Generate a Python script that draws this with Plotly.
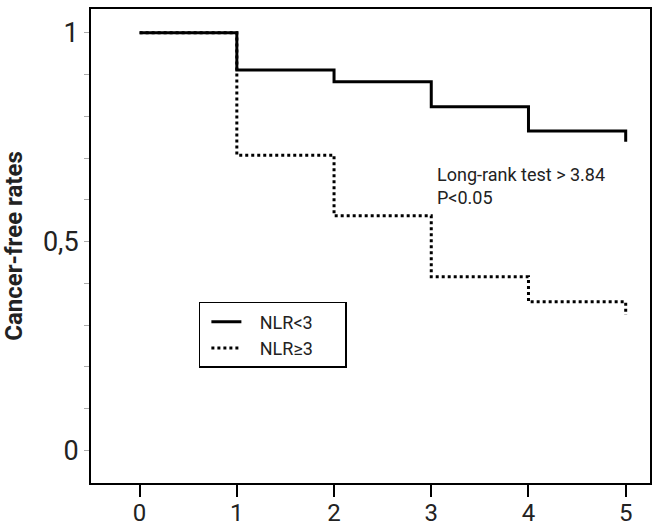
import plotly.graph_objects as go

years = [0, 1, 2, 3, 4, 5]
nlr_low = [1.0, 0.911, 0.883, 0.823, 0.765, 0.739]
nlr_high = [1.0, 0.707, 0.562, 0.416, 0.356, 0.324]
series_names = ["NLR<3", "NLR≥3"]
x_ticks = [0, 1, 2, 3, 4, 5]
y_ticks = [0, 0.1, 0.2, 0.3, 0.4, 0.5, 0.6, 0.7, 0.8, 0.9, 1.0]
y_tick_labels = ["0", "", "", "", "", "0,5", "", "", "", "", "1"]

FONT = "Roboto, sans-serif"
LEAD = "\u00a0" * 3
PAD = "\u00a0" * 6

fig = go.Figure()
fig.add_trace(go.Scatter(x=years, y=nlr_low, mode="lines", line_shape="hv",
                         name=LEAD + series_names[0] + PAD, line=dict(color="black", width=3)))
fig.add_trace(go.Scatter(x=years, y=nlr_high, mode="lines", line_shape="hv",
                         name=LEAD + series_names[1] + PAD, line=dict(color="black", width=3, dash="dot")))

fig.add_annotation(x=3.04, y=0.69, xref="x", yref="y", xanchor="left", yanchor="top",
                   text="Long-rank test > 3.84<br>P<0.05", showarrow=False, align="left",
                   font=dict(family=FONT, size=18, color="#222"))

fig.update_layout(
    width=665, height=528,
    margin=dict(l=91, r=15, t=9, b=45, autoexpand=False),
    paper_bgcolor="white", plot_bgcolor="white",
    font=dict(family=FONT, color="#222"),
    showlegend=True,
    legend=dict(x=0.193, y=0.382, xanchor="left", yanchor="top",
                bordercolor="black", borderwidth=1.5, bgcolor="white",
                font=dict(family=FONT, size=18, color="#222"),
                indentation=6, tracegroupgap=0),
    xaxis=dict(range=[-0.5, 5.25], tickvals=x_ticks, ticks="outside", ticklen=12, tickwidth=2,
               tickcolor="black", showline=True, linecolor="black", linewidth=2, mirror=True,
               automargin=False, ticklabelstandoff=-5,
               showgrid=False, zeroline=False, tickfont=dict(family=FONT, size=24, color="#222")),
    yaxis=dict(range=[-0.078, 1.057], tickvals=y_ticks, ticktext=y_tick_labels, ticks="outside",
               ticklen=5, tickwidth=1, tickcolor="#aaa", showline=True, linecolor="black",
               linewidth=2, mirror=True, showgrid=False, zeroline=False, automargin=False,
               tickfont=dict(family=FONT, size=27, color="#222"),
               title=dict(text="<b>Cancer-free rates</b>", font=dict(family=FONT, size=24, color="#222"),
                          standoff=18)),
)

fig.write_html("out.html", config={"displayModeBar": False},
               post_script="document.body.style.margin='0';document.body.style.overflow='hidden';")
